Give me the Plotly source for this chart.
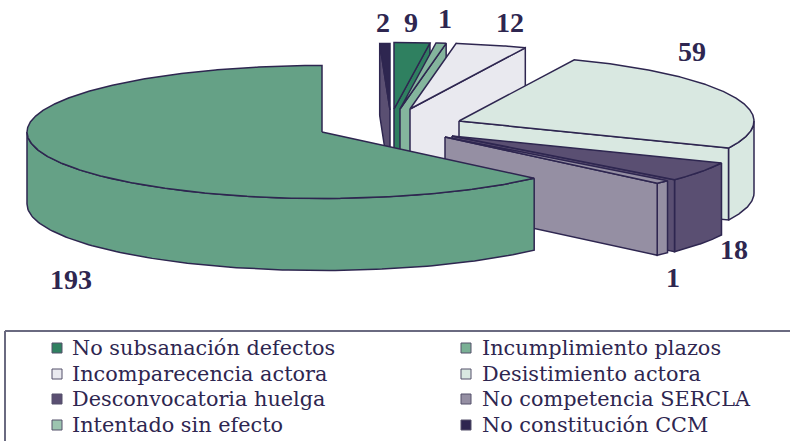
#!/usr/bin/env python3
import numpy as np
import plotly.graph_objects as go

# legend order
categories = ['No subsanación defectos', 'Incumplimiento plazos',
              'Incomparecencia actora', 'Desistimiento actora',
              'Desconvocatoria huelga', 'No competencia SERCLA',
              'Intentado sin efecto', 'No constitución CCM']
values = [9, 193, 12, 59, 18, 1, 1, 2]

# slices going clockwise from the top of the pie
pie_order = [0, 6, 2, 3, 4, 5, 1, 7]

top_colors = ['#2f8060', '#65a186', '#e9e9ef', '#d9e8e1', '#5a4f72', '#958fa3', '#84b59d', '#2e2650']
wall_colors = ['#2f8060', '#65a186', '#e9e9ef', '#d9e8e1', '#5a4f72', '#958fa3', '#84b59d', '#5a4f72']
swatch_colors = ['#2f8060', '#7ab095', '#e9e9ef', '#d9e8e1', '#5a4f72', '#958fa3', '#9cc4b0', '#2e2650']
INK = '#2e2650'

# pie projection: value angle -> angle on the drawn ellipse (the 3D view distorts it)
VALUE_DEG = [0, 10.98, 12.2, 26.84, 98.85, 120.8, 122.03, 357.56, 360]
DRAWN_DEG = [0, 7, 9, 23, 114, 131, 134, 360, 362]
RX, RY, DEPTH = 295, 66.5, 72

# exploded centre of each slice and where its number sits, same order as categories
centres = [(394, 109), (322, 132), (410, 109), (459, 121), (452, 136), (445, 137), (400, 109), (390, 110)]
label_pos = [(411, 22), (71, 279), (510, 22), (692, 51), (734, 249), (673, 277), (445, 18), (383, 22)]
angle_shift = [0, 0, 0, 0, 0, 0, 0, -2]


def rim(centre, deg, drop=0):
    t = np.radians(deg)
    return centre[0] + RX * np.sin(t), centre[1] - RY * np.cos(t) + drop


def face(xs, ys, color):
    return go.Scatter(x=list(xs), y=list(ys), mode='lines', fill='toself', fillcolor=color,
                      line=dict(color=INK, width=1.5), hoverinfo='skip', showlegend=False)


def radial_wall(c, deg, color):
    rx, ry = rim(c, deg)
    return face([c[0], rx, rx, c[0], c[0]],
                [c[1], ry, ry + DEPTH, c[1] + DEPTH, c[1]], color)


fig = go.Figure()

# back to front, so the big slice goes last and the small one at 360 goes first
cum = np.cumsum([0] + [values[i] for i in pie_order]) / sum(values) * 360
drawn = np.interp(cum, VALUE_DEG, DRAWN_DEG)
spans = {i: (drawn[k] + angle_shift[i], drawn[k + 1] + angle_shift[i]) for k, i in enumerate(pie_order)}

for i in [7, 0, 6, 2, 3, 4, 5, 1]:
    a, b = spans[i]
    c = centres[i]
    # side walls
    lo, hi = max(a, 90), min(b, 270)
    if hi > lo:
        arc = np.linspace(lo, hi, 120)
        x1, y1 = rim(c, arc)
        x2, y2 = rim(c, arc[::-1], DEPTH)
        fig.add_trace(face(np.r_[x1, x2, x1[0]], np.r_[y1, y2, y1[0]], wall_colors[i]))
    if np.sin(np.radians(b)) > 1e-6:
        fig.add_trace(radial_wall(c, b, wall_colors[i]))
    if np.sin(np.radians(a)) < -1e-6:
        fig.add_trace(radial_wall(c, a, wall_colors[i]))
    # top
    arc = np.linspace(a, b, max(int(b - a) * 3, 8))
    x1, y1 = rim(c, arc)
    fig.add_trace(face(np.r_[c[0], x1, c[0]], np.r_[c[1], y1, c[1]], top_colors[i]))

# numbers
for v, (x, y) in zip(values, label_pos):
    fig.add_annotation(x=x, y=y, text=str(v), showarrow=False,
                       font=dict(family='Liberation Serif', size=28, color=INK, weight='bold'))

# legend box
fig.add_shape(type='line', x0=5, x1=790, y0=331, y1=331, line=dict(color='#6a6a80', width=2))
fig.add_shape(type='line', x0=5, x1=5, y0=331, y1=441, line=dict(color='#6a6a80', width=2))
legend_rows = [348, 374, 399, 425]
legend_cols = [(57, 70), (466, 480)]
for i, name in enumerate(categories):
    mx, tx = legend_cols[i % 2]
    ly = legend_rows[i // 2]
    fig.add_trace(go.Scatter(x=[mx], y=[ly], mode='markers', hoverinfo='skip', showlegend=False,
                             marker=dict(symbol='square', size=10, color=swatch_colors[i],
                                         line=dict(color='#55506a', width=1))))
    fig.add_annotation(x=tx, y=ly, text=name, showarrow=False, xanchor='left',
                       font=dict(family='DejaVu Serif', size=20.8, color=INK))

fig.update_xaxes(range=[0, 790], visible=False, fixedrange=True)
fig.update_yaxes(range=[441, 0], visible=False, fixedrange=True)
fig.update_layout(width=790, height=441, margin=dict(l=0, r=0, t=0, b=0),
                  paper_bgcolor='white', plot_bgcolor='white', showlegend=False)

# the page's default body margin would push the picture 8px off
fig.write_html("out.html", config=dict(displayModeBar=False),
               post_script="document.body.style.margin='0';document.body.style.overflow='hidden';")
